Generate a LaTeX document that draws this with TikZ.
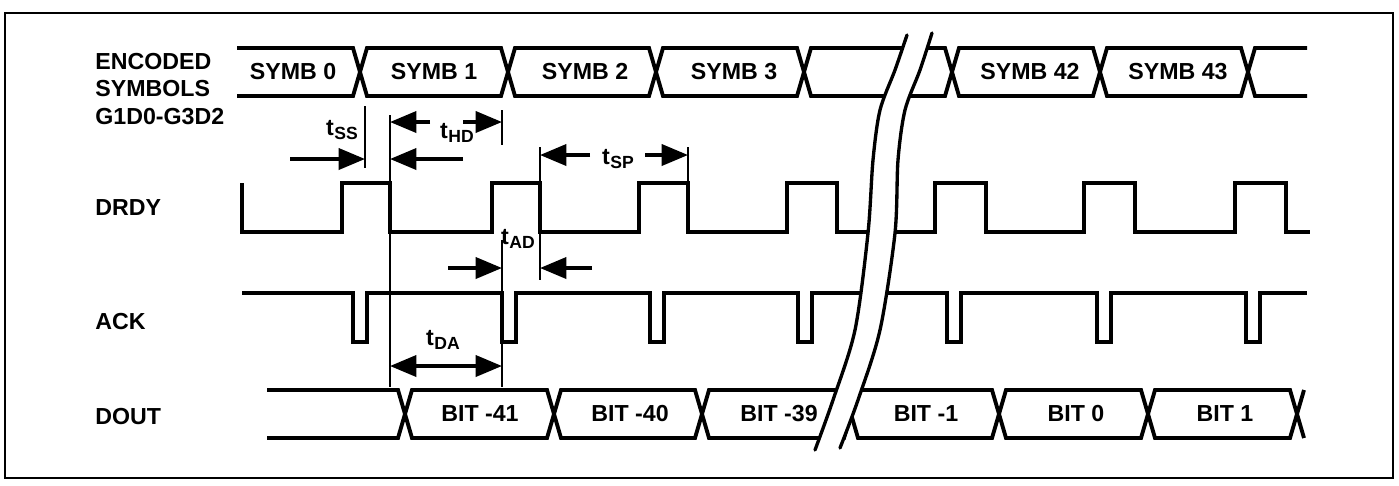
\documentclass[tikz,border=0pt]{standalone}
\usepackage{fontspec}
\setmainfont{Liberation Sans}
\usepackage{tikz}
\usetikzlibrary{arrows.meta}

\newcommand{\tsub}[1]{t\kern0.3pt\raisebox{-1.8pt}{\fontsize{10}{10}\selectfont #1}}

\begin{document}
\begin{tikzpicture}[x=0.02cm, y=-0.02cm,
  font=\fontsize{13.2}{15.5}\selectfont\bfseries,
  >={Triangle[length=15pt,width=12pt]},
  sig/.style={line width=2.2pt, line join=miter},
  ext/.style={line width=0.9pt},
  dim/.style={line width=2pt, ->},
  lbl/.style={inner sep=0pt}]
  \useasboundingbox (0,0) rectangle (1399,485);
  \fill[white] (0,0) rectangle (1399,485);
  \draw[line width=1.5pt] (5,13) rectangle (1393,478);

  % signal names
  \node[lbl, anchor=west, align=left] (enc) at (95,89) {ENCODED\\SYMBOLS\\G1D0-G3D2};
  \node[lbl, anchor=west] (drdy) at (95,208) {DRDY};
  \node[lbl, anchor=west] (ack) at (95,322) {ACK};
  \node[lbl, anchor=west] (dout) at (95,417) {DOUT};

  % ENCODED SYMBOLS -- bus
  \draw[sig] (237,48) -- (353,48) -- (360,72) -- (353,96) -- (237,96);
  \foreach \a/\b in {360/508, 508/656, 656/804, 804/952, 952/1100, 1100/1248}
    \draw[sig] (\a,72) -- (\a+7,48) -- (\b-7,48) -- (\b,72) -- (\b-7,96) -- (\a+7,96) -- cycle;
  \draw[sig] (1307,48) -- (1255,48) -- (1248,72) -- (1255,96) -- (1307,96);
  \foreach \x/\t [count=\i] in {293/SYMB 0, 434/SYMB 1, 585/SYMB 2, 734/SYMB 3, 1030/SYMB 42, 1178/SYMB 43}
    \node[lbl] (sym\i) at (\x,72) {\t};

  % DRDY
  \draw[sig] (242,183) -- (242,232)
    \foreach \r/\f in {342/390, 492/540, 639/688, 787/837, 935/986, 1084/1135, 1235/1286}
      { -- (\r,232) -- (\r,183) -- (\f,183) -- (\f,232) }
    -- (1310,232);

  % ACK
  \draw[sig] (242,293)
    \foreach \f in {353, 502, 650, 798, 947, 1097, 1246}
      { -- (\f,293) -- (\f,342) -- (\f+14,342) -- (\f+14,293) }
    -- (1307,293);

  % DOUT -- bus
  \draw[sig] (267,390) -- (398,390) -- (405,414) -- (398,438) -- (267,438);
  \foreach \a/\b in {405/554, 554/702, 702/851, 851/999, 999/1148, 1148/1297}
    \draw[sig] (\a,414) -- (\a+7,390) -- (\b-7,390) -- (\b,414) -- (\b-7,438) -- (\a+7,438) -- cycle;
  \draw[sig] (1304,390) -- (1297,414) -- (1304,438);
  \foreach \x/\t [count=\i] in {480/BIT -41, 630/BIT -40, 779/BIT -39, 926/BIT -1, 1076/BIT 0, 1225/BIT 1}
    \node[lbl] (bit\i) at (\x,414) {\t};

  % break in time axis
  \fill[white] plot[smooth] coordinates {(907,35) (895,70) (880,110) (873,160) (868,233) (855,330) (833,400) (815,450)}
    -- plot[smooth] coordinates {(840,448) (858,400) (880,330) (895,233) (898,160) (905,110) (920,70) (932,33)} -- cycle;
  \draw[line width=1.9pt, line cap=round] plot[smooth] coordinates {(907,35) (895,70) (880,110) (873,160) (868,233) (855,330) (833,400) (815,450)};
  \draw[line width=1.9pt, line cap=round] plot[smooth] coordinates {(932,33) (920,70) (905,110) (898,160) (895,233) (880,330) (858,400) (840,448)};

  % extension lines
  \draw[ext] (365,106) -- (365,168);
  \draw[ext] (390,115) -- (390,387);
  \draw[ext] (502,110) -- (502,145);
  \draw[ext] (540,147) -- (540,280);
  \draw[ext] (688,147) -- (688,183);
  \draw[ext] (502,240) -- (502,387);

  % tSS
  \coordinate (ss-a) at (290,159); \coordinate (ss-b) at (365,159);
  \coordinate (ss-c) at (463,159); \coordinate (ss-d) at (390,159);
  \draw[dim] (ss-a) -- (ss-b);
  \draw[dim] (ss-c) -- (ss-d);
  \node[lbl] (tss) at (342,130) {\tsub{SS}};

  % tHD
  \coordinate (hd-a) at (430,122); \coordinate (hd-b) at (390,122);
  \coordinate (hd-c) at (463,122); \coordinate (hd-d) at (502,122);
  \draw[dim] (hd-a) -- (hd-b);
  \draw[dim] (hd-c) -- (hd-d);
  \node[lbl] (thd) at (457,133) {\tsub{HD}};

  % tSP
  \coordinate (sp-a) at (590,155); \coordinate (sp-b) at (540,155);
  \coordinate (sp-c) at (645,155); \coordinate (sp-d) at (688,155);
  \draw[dim] (sp-a) -- (sp-b);
  \draw[dim] (sp-c) -- (sp-d);
  \node[lbl] (tsp) at (618,159) {\tsub{SP}};

  % tAD
  \coordinate (ad-a) at (448,268); \coordinate (ad-b) at (502,268);
  \coordinate (ad-c) at (592,268); \coordinate (ad-d) at (540,268);
  \draw[dim] (ad-a) -- (ad-b);
  \draw[dim] (ad-c) -- (ad-d);
  \node[lbl] (tad) at (518,239) {\tsub{AD}};

  % tDA
  \coordinate (da-a) at (390,366); \coordinate (da-b) at (502,366);
  \draw[dim, <->] (da-a) -- (da-b);
  \node[lbl] (tda) at (443,340) {\tsub{DA}};
\end{tikzpicture}
\end{document}
